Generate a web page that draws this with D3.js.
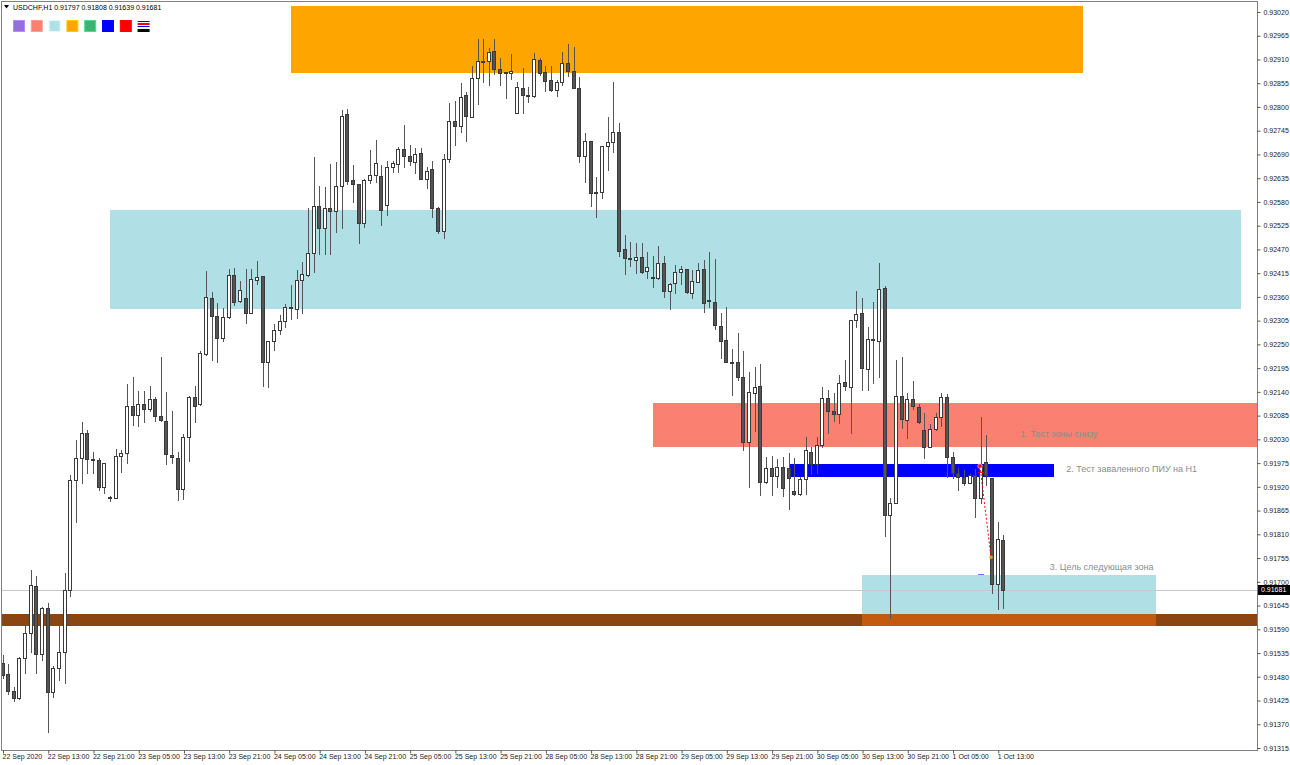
<!DOCTYPE html>
<html>
<head>
<meta charset="utf-8">
<script src="https://cdn.jsdelivr.net/npm/d3@7"></script>
<style>
  html, body { margin: 0; padding: 0; background: #fff; }
  svg { display: block; font-family: "Liberation Sans", Arial, sans-serif; }
</style>
</head>
<body>
<svg id="chart" width="1290" height="765"></svg>
<script>
// USDCHF H1, bar 0 = 22 Sep 2020 05:00
const opens = [
  0.91512, 0.91486, 0.91447, 0.91431, 0.91523, 0.91581, 0.91690, 0.91533, 0.91639, 0.91445,
  0.91500, 0.91537, 0.91681, 0.91936, 0.91987, 0.92045, 0.91985, 0.91982, 0.91920, 0.91896,
  0.91894, 0.91991, 0.91998, 0.92107, 0.92086, 0.92112, 0.92100, 0.92124, 0.92084, 0.92073,
  0.91994, 0.91987, 0.91915, 0.92035, 0.92128, 0.92112, 0.92228, 0.92358, 0.92316, 0.92265,
  0.92313, 0.92411, 0.92351, 0.92358, 0.92323, 0.92399, 0.92408, 0.92209, 0.92258, 0.92283,
  0.92304, 0.92337, 0.92332, 0.92399, 0.92411, 0.92462, 0.92571, 0.92520, 0.92566, 0.92559,
  0.92617, 0.92784, 0.92631, 0.92622, 0.92531, 0.92631, 0.92643, 0.92640, 0.92573, 0.92661,
  0.92668, 0.92703, 0.92687, 0.92673, 0.92693, 0.92633, 0.92656, 0.92566, 0.92513, 0.92680,
  0.92768, 0.92756, 0.92828, 0.92777, 0.92867, 0.92907, 0.92907, 0.92930, 0.92888, 0.92881,
  0.92879, 0.92786, 0.92844, 0.92826, 0.92826, 0.92909, 0.92881, 0.92863, 0.92840, 0.92858,
  0.92902, 0.92884, 0.92844, 0.92687, 0.92721, 0.92603, 0.92603, 0.92710, 0.92719, 0.92742,
  0.92471, 0.92450, 0.92446, 0.92452, 0.92420, 0.92406, 0.92404, 0.92439, 0.92374, 0.92392,
  0.92418, 0.92425, 0.92369, 0.92395, 0.92425, 0.92353, 0.92348, 0.92293, 0.92260, 0.92209,
  0.92209, 0.92174, 0.92024, 0.92137, 0.92154, 0.91931, 0.91964, 0.91945, 0.91966, 0.91964,
  0.91910, 0.91903, 0.91938, 0.92001, 0.91973, 0.92017, 0.92126, 0.92096, 0.92089, 0.92163,
  0.92151, 0.92307, 0.92323, 0.92193, 0.92263, 0.92258, 0.92381, 0.91855, 0.91883, 0.92130,
  0.92075, 0.92124, 0.92105, 0.92052, 0.92012, 0.92054, 0.92082, 0.92128, 0.91989, 0.91952,
  0.91943, 0.91929, 0.91947, 0.91894, 0.91978, 0.91940, 0.91695, 0.91797
];
const highs = [
  0.91530, 0.91510, 0.91456, 0.91526, 0.91623, 0.91727, 0.91713, 0.91642, 0.91651, 0.91505,
  0.91600, 0.91720, 0.91947, 0.92029, 0.92070, 0.92052, 0.92001, 0.91987, 0.91975, 0.91899,
  0.92008, 0.92005, 0.92158, 0.92174, 0.92142, 0.92142, 0.92154, 0.92128, 0.92221, 0.92140,
  0.92096, 0.92001, 0.92042, 0.92130, 0.92154, 0.92235, 0.92420, 0.92371, 0.92346, 0.92334,
  0.92425, 0.92427, 0.92397, 0.92425, 0.92425, 0.92443, 0.92408, 0.92258, 0.92297, 0.92318,
  0.92344, 0.92388, 0.92422, 0.92441, 0.92566, 0.92684, 0.92617, 0.92615, 0.92668, 0.92673,
  0.92793, 0.92795, 0.92666, 0.92622, 0.92633, 0.92700, 0.92724, 0.92666, 0.92675, 0.92675,
  0.92707, 0.92758, 0.92712, 0.92705, 0.92705, 0.92661, 0.92675, 0.92568, 0.92691, 0.92809,
  0.92814, 0.92856, 0.92835, 0.92895, 0.92958, 0.92958, 0.92937, 0.92958, 0.92914, 0.92881,
  0.92923, 0.92858, 0.92890, 0.92846, 0.92925, 0.92914, 0.92895, 0.92895, 0.92863, 0.92928,
  0.92946, 0.92939, 0.92870, 0.92740, 0.92721, 0.92638, 0.92710, 0.92777, 0.92858, 0.92763,
  0.92503, 0.92487, 0.92485, 0.92485, 0.92464, 0.92455, 0.92478, 0.92455, 0.92392, 0.92434,
  0.92432, 0.92425, 0.92422, 0.92439, 0.92446, 0.92464, 0.92448, 0.92323, 0.92337, 0.92239,
  0.92276, 0.92235, 0.92186, 0.92198, 0.92205, 0.91989, 0.91991, 0.91985, 0.91989, 0.91998,
  0.91987, 0.91943, 0.92035, 0.92012, 0.92035, 0.92151, 0.92144, 0.92137, 0.92179, 0.92214,
  0.92307, 0.92374, 0.92358, 0.92290, 0.92348, 0.92439, 0.92385, 0.91894, 0.92214, 0.92221,
  0.92137, 0.92165, 0.92112, 0.92091, 0.92066, 0.92091, 0.92137, 0.92135, 0.92001, 0.91964,
  0.91959, 0.91950, 0.91961, 0.92082, 0.92040, 0.91940, 0.91839, 0.91808
];
const lows = [
  0.91477, 0.91440, 0.91424, 0.91428, 0.91489, 0.91537, 0.91489, 0.91519, 0.91352, 0.91433,
  0.91472, 0.91465, 0.91667, 0.91839, 0.91929, 0.91952, 0.91952, 0.91913, 0.91906, 0.91887,
  0.91894, 0.91954, 0.91975, 0.92063, 0.92061, 0.92070, 0.92096, 0.92073, 0.92073, 0.91973,
  0.91975, 0.91890, 0.91892, 0.91980, 0.92070, 0.92110, 0.92225, 0.92214, 0.92209, 0.92258,
  0.92311, 0.92341, 0.92348, 0.92300, 0.92323, 0.92390, 0.92154, 0.92151, 0.92237, 0.92274,
  0.92290, 0.92309, 0.92311, 0.92323, 0.92408, 0.92418, 0.92459, 0.92459, 0.92459, 0.92510,
  0.92520, 0.92622, 0.92580, 0.92485, 0.92522, 0.92624, 0.92626, 0.92527, 0.92550, 0.92650,
  0.92650, 0.92661, 0.92666, 0.92647, 0.92633, 0.92612, 0.92545, 0.92508, 0.92497, 0.92673,
  0.92712, 0.92742, 0.92721, 0.92777, 0.92807, 0.92858, 0.92851, 0.92877, 0.92851, 0.92821,
  0.92865, 0.92786, 0.92786, 0.92812, 0.92823, 0.92874, 0.92837, 0.92837, 0.92826, 0.92851,
  0.92872, 0.92844, 0.92673, 0.92626, 0.92571, 0.92545, 0.92589, 0.92654, 0.92696, 0.92455,
  0.92413, 0.92432, 0.92415, 0.92415, 0.92404, 0.92383, 0.92402, 0.92360, 0.92332, 0.92369,
  0.92390, 0.92369, 0.92358, 0.92395, 0.92325, 0.92337, 0.92286, 0.92218, 0.92209, 0.92133,
  0.92168, 0.92005, 0.91920, 0.92049, 0.91901, 0.91929, 0.91901, 0.91920, 0.91899, 0.91869,
  0.91901, 0.91901, 0.91903, 0.91950, 0.91952, 0.92012, 0.92045, 0.92073, 0.92068, 0.92144,
  0.92045, 0.92290, 0.92144, 0.92144, 0.92161, 0.92174, 0.91806, 0.91616, 0.91883, 0.92056,
  0.92033, 0.92100, 0.92068, 0.91987, 0.92012, 0.92052, 0.92061, 0.91943, 0.91940, 0.91913,
  0.91924, 0.91929, 0.91850, 0.91883, 0.91924, 0.91674, 0.91637, 0.91639
];
const closes = [
  0.91484, 0.91447, 0.91431, 0.91523, 0.91581, 0.91693, 0.91533, 0.91639, 0.91445, 0.91500,
  0.91537, 0.91681, 0.91936, 0.91987, 0.92045, 0.91985, 0.91982, 0.91920, 0.91975, 0.91894,
  0.91991, 0.91998, 0.92107, 0.92086, 0.92112, 0.92100, 0.92124, 0.92084, 0.92075, 0.91996,
  0.91989, 0.91915, 0.92035, 0.92128, 0.92107, 0.92230, 0.92360, 0.92316, 0.92265, 0.92313,
  0.92411, 0.92348, 0.92376, 0.92323, 0.92402, 0.92406, 0.92209, 0.92258, 0.92283, 0.92304,
  0.92337, 0.92334, 0.92399, 0.92413, 0.92462, 0.92571, 0.92520, 0.92566, 0.92559, 0.92617,
  0.92779, 0.92629, 0.92622, 0.92531, 0.92631, 0.92643, 0.92670, 0.92561, 0.92661, 0.92670,
  0.92703, 0.92687, 0.92675, 0.92691, 0.92633, 0.92652, 0.92566, 0.92513, 0.92680, 0.92768,
  0.92756, 0.92823, 0.92779, 0.92867, 0.92907, 0.92904, 0.92928, 0.92888, 0.92879, 0.92879,
  0.92884, 0.92846, 0.92828, 0.92827, 0.92911, 0.92879, 0.92860, 0.92840, 0.92858, 0.92902,
  0.92884, 0.92844, 0.92687, 0.92721, 0.92601, 0.92601, 0.92710, 0.92719, 0.92742, 0.92466,
  0.92450, 0.92448, 0.92452, 0.92418, 0.92429, 0.92404, 0.92439, 0.92374, 0.92390, 0.92418,
  0.92425, 0.92371, 0.92397, 0.92422, 0.92346, 0.92351, 0.92295, 0.92258, 0.92209, 0.92207,
  0.92174, 0.92024, 0.92140, 0.92151, 0.91931, 0.91964, 0.91945, 0.91966, 0.91917, 0.91940,
  0.91903, 0.91938, 0.92005, 0.91973, 0.92017, 0.92126, 0.92096, 0.92089, 0.92161, 0.92154,
  0.92307, 0.92320, 0.92195, 0.92263, 0.92260, 0.92378, 0.91855, 0.91883, 0.92130, 0.92077,
  0.92124, 0.92107, 0.92070, 0.92012, 0.92054, 0.92082, 0.92128, 0.91989, 0.91952, 0.91943,
  0.91929, 0.91947, 0.91894, 0.91971, 0.91947, 0.91695, 0.91799, 0.91681
];

// time axis: one label every 8 bars
const timeLabels = [
  "22 Sep 2020", "22 Sep 13:00", "22 Sep 21:00", "23 Sep 05:00", "23 Sep 13:00", "23 Sep 21:00",
  "24 Sep 05:00", "24 Sep 13:00", "24 Sep 21:00", "25 Sep 05:00", "25 Sep 13:00", "25 Sep 21:00",
  "28 Sep 05:00", "28 Sep 13:00", "28 Sep 21:00", "29 Sep 05:00", "29 Sep 13:00", "29 Sep 21:00",
  "30 Sep 05:00", "30 Sep 13:00", "30 Sep 21:00", "1 Oct 05:00", "1 Oct 13:00"
];
const timeTickBars = timeLabels.map((t, k) => k * 8);

const priceTicks = [
  0.93020, 0.92965, 0.92910, 0.92855, 0.92800, 0.92745, 0.92690, 0.92635,
  0.92580, 0.92525, 0.92470, 0.92415, 0.92360, 0.92305, 0.92250, 0.92195,
  0.92140, 0.92085, 0.92030, 0.91975, 0.91920, 0.91865, 0.91810, 0.91755,
  0.91700, 0.91645, 0.91590, 0.91535, 0.91480, 0.91425, 0.91370, 0.91315
];

// rectangles drawn on the chart (bar index from/to, price top/bottom)
const zoneFrom = [51, 19, 115, 139, 152, -5, 152];
const zoneTo = [191, 219, 240, 186, 204, 240, 204];
const zoneTop = [0.93034, 0.92561, 0.92114, 0.91973, 0.91716, 0.91625, 0.91625];
const zoneBottom = [0.92879, 0.92332, 0.92012, 0.91943, 0.91597, 0.91597, 0.91597];

// text notes
const noteTexts = ["1. Тест зоны снизу", "2. Тест заваленного ПИУ на H1", "3. Цель следующая зона"];
const noteBars = [180, 188.1, 185.2];
const notePrices = [0.92042, 0.91961, 0.91734];

// trade arrow: entry -> exit
const tradeBars = [173, 175];
const tradePrices = [0.91968, 0.91757];

const symbol = "USDCHF,H1";
const legendColors = ["#9370DB", "#FA8072", "#B0E0E6", "#FFA500", "#3CB371", "#0000FF", "#FF0000"];

// ---------------------------------------------------------------
const svg = d3.select("#chart");
const plotRight = 1257, plotBottom = 750;

const x = d3.scaleLinear().domain([0, 222]).range([2.5, 2.5 + 5.655 * 222]);
const y = d3.scaleLinear().domain([0.91315, 0.93020]).range([748, 12]);
const px = (i) => Math.round(x(i));

svg.append("defs").append("clipPath").attr("id", "plot-clip")
  .append("rect").attr("x", 2).attr("y", 2).attr("width", plotRight - 2).attr("height", plotBottom - 2);

const plot = svg.append("g").attr("clip-path", "url(#plot-clip)");

// zones
const zoneFills = ["#FFA500", "#B0E0E6", "#FA8072", "#0000FF", "#B0E0E6", "#8B4513", "#C35A0E"];
const zones = zoneFrom.map((f, k) => ({ f, t: zoneTo[k], top: zoneTop[k], bot: zoneBottom[k], fill: zoneFills[k] }));
plot.append("g")
  .selectAll("rect")
  .data(zones)
  .enter()
  .append("rect")
  .attr("x", (d) => px(d.f))
  .attr("width", (d) => px(d.t) - px(d.f))
  .attr("y", (d) => Math.round(y(d.top)))
  .attr("height", (d) => Math.round(y(d.bot)) - Math.round(y(d.top)))
  .attr("fill", (d) => d.fill);

// current price line
const lastClose = closes[closes.length - 1];
plot.append("line")
  .attr("x1", 0).attr("x2", plotRight)
  .attr("y1", Math.round(y(lastClose)) + 0.5).attr("y2", Math.round(y(lastClose)) + 0.5)
  .attr("stroke", "#c8c8c8");

// candles
const bars = opens.map((o, i) => ({ i, o, h: highs[i], l: lows[i], c: closes[i] }));
const candles = plot.append("g").attr("class", "candles");
candles.selectAll("line")
  .data(bars)
  .enter()
  .append("line")
  .attr("x1", (d) => px(d.i) + 0.5)
  .attr("x2", (d) => px(d.i) + 0.5)
  .attr("y1", (d) => Math.round(y(d.h)))
  .attr("y2", (d) => Math.round(y(d.l)) + 1)
  .attr("stroke", "#555");
candles.selectAll("rect")
  .data(bars)
  .enter()
  .append("rect")
  .attr("x", (d) => px(d.i) - 1.5)
  .attr("width", 3)
  .attr("y", (d) => Math.round(y(Math.max(d.o, d.c))) + 0.5)
  .attr("height", (d) => Math.max(0, Math.round(y(Math.min(d.o, d.c))) - Math.round(y(Math.max(d.o, d.c)))))
  .attr("fill", (d) => (d.c >= d.o ? "#ffffff" : "#555555"))
  .attr("stroke", "#3a3a3a");

// trade arrow
plot.append("line")
  .attr("x1", px(tradeBars[0]) - 1).attr("y1", y(tradePrices[0]))
  .attr("x2", px(tradeBars[1]) - 1).attr("y2", y(tradePrices[1]))
  .attr("stroke", "#ff0000").attr("stroke-dasharray", "2,2");
plot.append("circle")
  .attr("cx", px(tradeBars[0]) - 1).attr("cy", y(tradePrices[0])).attr("r", 2.2)
  .attr("fill", "#ff0000").attr("stroke", "#ffb0b0").attr("stroke-width", 0.8);
plot.append("line")
  .attr("x1", px(tradeBars[0]) - 3).attr("x2", px(tradeBars[0]) + 3)
  .attr("y1", y(tradePrices[0]) + 6.5).attr("y2", y(tradePrices[0]) + 6.5)
  .attr("stroke", "#ff0000");
plot.append("circle")
  .attr("cx", px(tradeBars[1]) - 1).attr("cy", y(tradePrices[1])).attr("r", 1.8)
  .attr("fill", "#e0a020");
plot.append("line")
  .attr("x1", px(tradeBars[0]) - 3).attr("x2", px(tradeBars[0]) + 3)
  .attr("y1", Math.round(y(zoneTop[4])) - 0.5).attr("y2", Math.round(y(zoneTop[4])) - 0.5)
  .attr("stroke", "#7070ff");

// notes
plot.append("g")
  .selectAll("text")
  .data(noteTexts)
  .enter()
  .append("text")
  .attr("x", (d, k) => x(noteBars[k]))
  .attr("y", (d, k) => y(notePrices[k]))
  .attr("dy", "0.35em")
  .attr("font-size", 9)
  .attr("fill", "#8c8c8c")
  .text((d) => d);

// frame
svg.append("rect")
  .attr("x", 1.5).attr("y", 1.5)
  .attr("width", plotRight - 1).attr("height", plotBottom - 1)
  .attr("fill", "none").attr("stroke", "#808080");

// price axis
const yAxis = svg.append("g")
  .attr("transform", `translate(${plotRight + 0.5},0)`)
  .call(d3.axisRight(y).tickValues(priceTicks).tickFormat(d3.format(".5f")).tickSize(3).tickPadding(3));
yAxis.select(".domain").remove();
yAxis.attr("font-family", null).attr("font-size", 7);
yAxis.selectAll(".tick line").attr("stroke", "#555");
yAxis.selectAll(".tick text").attr("fill", "#222");

// current price tag
const tagY = Math.round(y(lastClose));
svg.append("rect")
  .attr("x", plotRight + 1).attr("y", tagY - 5).attr("width", 33).attr("height", 10)
  .attr("fill", "#000");
svg.append("text")
  .attr("x", plotRight + 4).attr("y", tagY).attr("dy", "0.35em")
  .attr("font-size", 7).attr("fill", "#fff")
  .text(d3.format(".5f")(lastClose));

// time axis
const xAxis = svg.append("g")
  .attr("transform", `translate(0.5,${plotBottom + 0.5})`)
  .call(d3.axisBottom(x).tickValues(timeTickBars).tickFormat((d, k) => timeLabels[k]).tickSize(3).tickPadding(1));
xAxis.select(".domain").remove();
xAxis.attr("font-family", null).attr("font-size", 7);
xAxis.selectAll(".tick line").attr("stroke", "#555");
xAxis.selectAll(".tick text").attr("text-anchor", "start").attr("x", -1).attr("fill", "#222");

// header
svg.append("path").attr("d", "M4,5 L9,5 L6.5,8.5 Z").attr("fill", "#000");
const lastI = opens.length - 1;
svg.append("text")
  .attr("x", 13).attr("y", 10)
  .attr("font-size", 7).attr("fill", "#000")
  .text(`${symbol}  ${[opens[lastI], highs[lastI], lows[lastI], closes[lastI]].map(d3.format(".5f")).join(" ")}`);

const legend = svg.append("g").attr("transform", "translate(13,20)");
legend.selectAll("rect")
  .data(legendColors)
  .enter()
  .append("rect")
  .attr("x", (d, k) => k * 17.8 + 0.5)
  .attr("y", 0.5)
  .attr("width", 11).attr("height", 11)
  .attr("fill", (d) => d)
  .attr("stroke", (d) => d3.color(d).brighter(0.6))
  .attr("stroke-width", 1);
const icon = legend.append("g").attr("transform", `translate(${legendColors.length * 17.8},0)`);
icon.append("rect").attr("x", 0).attr("y", 1).attr("width", 12).attr("height", 1).attr("fill", "#0000ff");
icon.append("rect").attr("x", 0).attr("y", 3).attr("width", 12).attr("height", 2).attr("fill", "#ff0000");
icon.append("rect").attr("x", 0).attr("y", 6).attr("width", 12).attr("height", 1).attr("fill", "#0000ff");
icon.append("rect").attr("x", 0).attr("y", 9).attr("width", 12).attr("height", 3).attr("fill", "#000");
</script>
</body>
</html>
